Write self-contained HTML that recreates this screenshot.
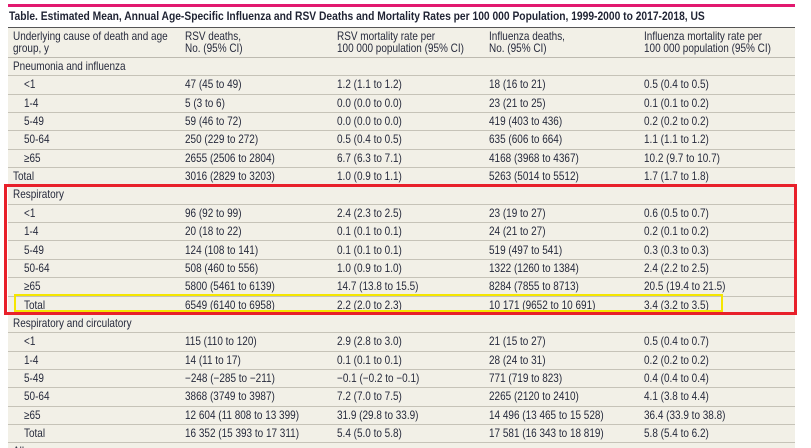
<!DOCTYPE html>
<html><head><meta charset="utf-8"><style>
html,body{margin:0;padding:0;width:811px;height:448px;overflow:hidden;background:#fff;}
body{font-family:"Liberation Sans",sans-serif;color:#262a3c;position:relative;}
.rule{position:absolute;left:8px;width:787px;top:4px;height:3px;background:#e2186f;}
.title{position:absolute;left:9px;top:9px;font-size:12.3px;font-weight:bold;color:#1f2333;white-space:nowrap;transform:scaleX(.835);transform-origin:left;}
.tbl{position:absolute;left:8px;top:27px;width:787px;height:421px;background:#f2f0e7;border-top:1px solid #555;}
.hdr{position:absolute;left:0;top:0;width:787px;height:30px;border-bottom:1px solid #bdbab0;box-sizing:border-box;}
.h{position:absolute;top:3px;font-size:11.6px;line-height:11.5px;white-space:nowrap;transform:scaleX(.86);transform-origin:left;}
.row{position:absolute;left:0;width:787px;height:18.35px;border-bottom:1px solid #c6c3b8;box-sizing:border-box;}
.c{position:absolute;top:0;line-height:17.5px;font-size:11.6px;white-space:nowrap;transform:scaleX(.86);transform-origin:left;}
.c1{left:5px}.c1i{left:16px}.c2{left:177px}.c3{left:329px}.c4{left:481px}.c5{left:636px}
.red{position:absolute;left:4px;top:184px;width:787px;height:125px;border:3px solid #e8202a;}
.yel{position:absolute;left:14px;top:294px;width:705px;height:14px;border:2px solid #f5e600;}
</style></head><body>
<div class="rule"></div>
<div class="title">Table. Estimated Mean, Annual Age-Specific Influenza and RSV Deaths and Mortality Rates per 100 000 Population, 1999-2000 to 2017-2018, US</div>
<div class="tbl">
 <div class="hdr">
  <span class="h c1">Underlying cause of death and age<br>group, y</span>
  <span class="h c2">RSV deaths,<br>No. (95% CI)</span>
  <span class="h c3">RSV mortality rate per<br>100 000 population (95% CI)</span>
  <span class="h c4">Influenza deaths,<br>No. (95% CI)</span>
  <span class="h c5">Influenza mortality rate per<br>100 000 population (95% CI)</span>
 </div>
 <div class="row" style="top:30px"><span class="c c1">Pneumonia and influenza</span></div>
 <div class="row" style="top:48.35px"><span class="c c1i">&lt;1</span><span class="c c2">47 (45 to 49)</span><span class="c c3">1.2 (1.1 to 1.2)</span><span class="c c4">18 (16 to 21)</span><span class="c c5">0.5 (0.4 to 0.5)</span></div>
 <div class="row" style="top:66.7px"><span class="c c1i">1-4</span><span class="c c2">5 (3 to 6)</span><span class="c c3">0.0 (0.0 to 0.0)</span><span class="c c4">23 (21 to 25)</span><span class="c c5">0.1 (0.1 to 0.2)</span></div>
 <div class="row" style="top:85.05px"><span class="c c1i">5-49</span><span class="c c2">59 (46 to 72)</span><span class="c c3">0.0 (0.0 to 0.0)</span><span class="c c4">419 (403 to 436)</span><span class="c c5">0.2 (0.2 to 0.2)</span></div>
 <div class="row" style="top:103.4px"><span class="c c1i">50-64</span><span class="c c2">250 (229 to 272)</span><span class="c c3">0.5 (0.4 to 0.5)</span><span class="c c4">635 (606 to 664)</span><span class="c c5">1.1 (1.1 to 1.2)</span></div>
 <div class="row" style="top:121.75px"><span class="c c1i">≥65</span><span class="c c2">2655 (2506 to 2804)</span><span class="c c3">6.7 (6.3 to 7.1)</span><span class="c c4">4168 (3968 to 4367)</span><span class="c c5">10.2 (9.7 to 10.7)</span></div>
 <div class="row" style="top:140.1px"><span class="c c1">Total</span><span class="c c2">3016 (2829 to 3203)</span><span class="c c3">1.0 (0.9 to 1.1)</span><span class="c c4">5263 (5014 to 5512)</span><span class="c c5">1.7 (1.7 to 1.8)</span></div>
 <div class="row" style="top:158.45px"><span class="c c1">Respiratory</span></div>
 <div class="row" style="top:176.8px"><span class="c c1i">&lt;1</span><span class="c c2">96 (92 to 99)</span><span class="c c3">2.4 (2.3 to 2.5)</span><span class="c c4">23 (19 to 27)</span><span class="c c5">0.6 (0.5 to 0.7)</span></div>
 <div class="row" style="top:195.15px"><span class="c c1i">1-4</span><span class="c c2">20 (18 to 22)</span><span class="c c3">0.1 (0.1 to 0.1)</span><span class="c c4">24 (21 to 27)</span><span class="c c5">0.2 (0.1 to 0.2)</span></div>
 <div class="row" style="top:213.5px"><span class="c c1i">5-49</span><span class="c c2">124 (108 to 141)</span><span class="c c3">0.1 (0.1 to 0.1)</span><span class="c c4">519 (497 to 541)</span><span class="c c5">0.3 (0.3 to 0.3)</span></div>
 <div class="row" style="top:231.85px"><span class="c c1i">50-64</span><span class="c c2">508 (460 to 556)</span><span class="c c3">1.0 (0.9 to 1.0)</span><span class="c c4">1322 (1260 to 1384)</span><span class="c c5">2.4 (2.2 to 2.5)</span></div>
 <div class="row" style="top:250.2px"><span class="c c1i">≥65</span><span class="c c2">5800 (5461 to 6139)</span><span class="c c3">14.7 (13.8 to 15.5)</span><span class="c c4">8284 (7855 to 8713)</span><span class="c c5">20.5 (19.4 to 21.5)</span></div>
 <div class="row" style="top:268.55px"><span class="c c1i">Total</span><span class="c c2">6549 (6140 to 6958)</span><span class="c c3">2.2 (2.0 to 2.3)</span><span class="c c4">10 171 (9652 to 10 691)</span><span class="c c5">3.4 (3.2 to 3.5)</span></div>
 <div class="row" style="top:286.9px"><span class="c c1">Respiratory and circulatory</span></div>
 <div class="row" style="top:305.25px"><span class="c c1i">&lt;1</span><span class="c c2">115 (110 to 120)</span><span class="c c3">2.9 (2.8 to 3.0)</span><span class="c c4">21 (15 to 27)</span><span class="c c5">0.5 (0.4 to 0.7)</span></div>
 <div class="row" style="top:323.6px"><span class="c c1i">1-4</span><span class="c c2">14 (11 to 17)</span><span class="c c3">0.1 (0.1 to 0.1)</span><span class="c c4">28 (24 to 31)</span><span class="c c5">0.2 (0.2 to 0.2)</span></div>
 <div class="row" style="top:341.95px"><span class="c c1i">5-49</span><span class="c c2">−248 (−285 to −211)</span><span class="c c3">−0.1 (−0.2 to −0.1)</span><span class="c c4">771 (719 to 823)</span><span class="c c5">0.4 (0.4 to 0.4)</span></div>
 <div class="row" style="top:360.3px"><span class="c c1i">50-64</span><span class="c c2">3868 (3749 to 3987)</span><span class="c c3">7.2 (7.0 to 7.5)</span><span class="c c4">2265 (2120 to 2410)</span><span class="c c5">4.1 (3.8 to 4.4)</span></div>
 <div class="row" style="top:378.65px"><span class="c c1i">≥65</span><span class="c c2">12 604 (11 808 to 13 399)</span><span class="c c3">31.9 (29.8 to 33.9)</span><span class="c c4">14 496 (13 465 to 15 528)</span><span class="c c5">36.4 (33.9 to 38.8)</span></div>
 <div class="row" style="top:397px"><span class="c c1i">Total</span><span class="c c2">16 352 (15 393 to 17 311)</span><span class="c c3">5.4 (5.0 to 5.8)</span><span class="c c4">17 581 (16 343 to 18 819)</span><span class="c c5">5.8 (5.4 to 6.2)</span></div>
 <div class="row" style="top:415.35px;border-bottom:none"><span class="c c1">All</span></div>
</div>
<div class="red"></div>
<div class="yel"></div>
</body></html>
